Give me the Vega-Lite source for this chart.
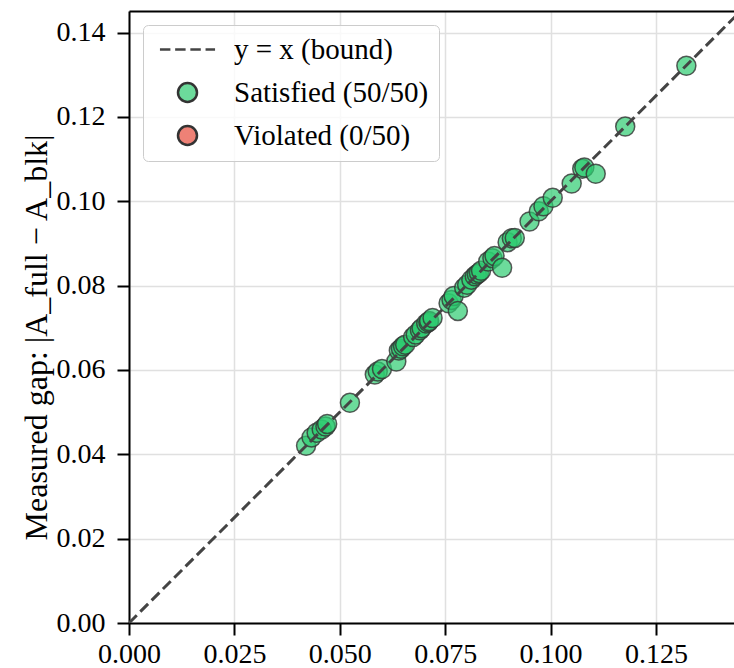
{
  "$schema": "https://vega.github.io/schema/vega-lite/v6.json",
  "width": 605,
  "height": 612,
  "autosize": "none",
  "padding": {"left": 129, "top": 11, "right": 0, "bottom": 45},
  "background": "white",
  "config": {
    "view": {"stroke": null},
    "font": "Liberation Serif",
    "axis": {
      "labelFont": "Liberation Serif", "labelFontSize": 28, "labelColor": "black",
      "titleFont": "Liberation Serif", "titleFontSize": 32, "titleFontWeight": "normal", "titleColor": "black",
      "domainColor": "black", "domainWidth": 2, "tickColor": "black", "tickWidth": 2, "tickSize": 12,
      "gridColor": "#e0e0e0", "gridWidth": 1.5
    }
  },
  "datasets": {
    "pts": [
      {"x": 0.0420, "y": 0.0420, "status": "Satisfied (50/50)"},
      {"x": 0.0433, "y": 0.0440, "status": "Satisfied (50/50)"},
      {"x": 0.0445, "y": 0.0451, "status": "Satisfied (50/50)"},
      {"x": 0.0457, "y": 0.0459, "status": "Satisfied (50/50)"},
      {"x": 0.0466, "y": 0.0466, "status": "Satisfied (50/50)"},
      {"x": 0.0470, "y": 0.0472, "status": "Satisfied (50/50)"},
      {"x": 0.0524, "y": 0.0522, "status": "Satisfied (50/50)"},
      {"x": 0.0583, "y": 0.0589, "status": "Satisfied (50/50)"},
      {"x": 0.0590, "y": 0.0596, "status": "Satisfied (50/50)"},
      {"x": 0.0600, "y": 0.0602, "status": "Satisfied (50/50)"},
      {"x": 0.0634, "y": 0.0620, "status": "Satisfied (50/50)"},
      {"x": 0.0640, "y": 0.0646, "status": "Satisfied (50/50)"},
      {"x": 0.0645, "y": 0.0650, "status": "Satisfied (50/50)"},
      {"x": 0.0650, "y": 0.0656, "status": "Satisfied (50/50)"},
      {"x": 0.0655, "y": 0.0660, "status": "Satisfied (50/50)"},
      {"x": 0.0674, "y": 0.0678, "status": "Satisfied (50/50)"},
      {"x": 0.0680, "y": 0.0684, "status": "Satisfied (50/50)"},
      {"x": 0.0690, "y": 0.0694, "status": "Satisfied (50/50)"},
      {"x": 0.0694, "y": 0.0699, "status": "Satisfied (50/50)"},
      {"x": 0.0705, "y": 0.0710, "status": "Satisfied (50/50)"},
      {"x": 0.0710, "y": 0.0713, "status": "Satisfied (50/50)"},
      {"x": 0.0712, "y": 0.0716, "status": "Satisfied (50/50)"},
      {"x": 0.0720, "y": 0.0723, "status": "Satisfied (50/50)"},
      {"x": 0.0758, "y": 0.0758, "status": "Satisfied (50/50)"},
      {"x": 0.0765, "y": 0.0766, "status": "Satisfied (50/50)"},
      {"x": 0.0770, "y": 0.0775, "status": "Satisfied (50/50)"},
      {"x": 0.0780, "y": 0.0740, "status": "Satisfied (50/50)"},
      {"x": 0.0795, "y": 0.0795, "status": "Satisfied (50/50)"},
      {"x": 0.0802, "y": 0.0802, "status": "Satisfied (50/50)"},
      {"x": 0.0812, "y": 0.0814, "status": "Satisfied (50/50)"},
      {"x": 0.0820, "y": 0.0822, "status": "Satisfied (50/50)"},
      {"x": 0.0825, "y": 0.0826, "status": "Satisfied (50/50)"},
      {"x": 0.0830, "y": 0.0830, "status": "Satisfied (50/50)"},
      {"x": 0.0835, "y": 0.0835, "status": "Satisfied (50/50)"},
      {"x": 0.0852, "y": 0.0857, "status": "Satisfied (50/50)"},
      {"x": 0.0862, "y": 0.0865, "status": "Satisfied (50/50)"},
      {"x": 0.0867, "y": 0.0870, "status": "Satisfied (50/50)"},
      {"x": 0.0885, "y": 0.0842, "status": "Satisfied (50/50)"},
      {"x": 0.0898, "y": 0.0903, "status": "Satisfied (50/50)"},
      {"x": 0.0908, "y": 0.0912, "status": "Satisfied (50/50)"},
      {"x": 0.0915, "y": 0.0913, "status": "Satisfied (50/50)"},
      {"x": 0.0950, "y": 0.0952, "status": "Satisfied (50/50)"},
      {"x": 0.0972, "y": 0.0976, "status": "Satisfied (50/50)"},
      {"x": 0.0983, "y": 0.0988, "status": "Satisfied (50/50)"},
      {"x": 0.1005, "y": 0.1008, "status": "Satisfied (50/50)"},
      {"x": 0.1050, "y": 0.1042, "status": "Satisfied (50/50)"},
      {"x": 0.1075, "y": 0.1077, "status": "Satisfied (50/50)"},
      {"x": 0.1080, "y": 0.1080, "status": "Satisfied (50/50)"},
      {"x": 0.1107, "y": 0.1065, "status": "Satisfied (50/50)"},
      {"x": 0.1177, "y": 0.1177, "status": "Satisfied (50/50)"},
      {"x": 0.1322, "y": 0.1321, "status": "Satisfied (50/50)"}
    ],
    "bound": [{"x": 0, "y": 0}, {"x": 0.16, "y": 0.16}]
  },
  "layer": [
    {
      "data": {"name": "pts"},
      "mark": {"type": "point", "filled": true, "size": 361, "fillOpacity": 0.7, "strokeWidth": 1.5, "strokeOpacity": 0.8},
      "encoding": {
        "x": {
          "field": "x", "type": "quantitative",
          "scale": {"domain": [0, 0.1435], "nice": false, "zero": false},
          "axis": {"orient": "bottom", "title": null, "values": [0, 0.025, 0.05, 0.075, 0.1, 0.125], "format": ".3f", "labelPadding": 5, "labelFlush": false, "labelOverlap": false}
        },
        "y": {
          "field": "y", "type": "quantitative",
          "scale": {"domain": [0, 0.1451], "nice": false, "zero": false},
          "axis": {"orient": "left", "title": "Measured gap: |A_full − A_blk|", "titlePadding": 3, "titleY": 326, "values": [0, 0.02, 0.04, 0.06, 0.08, 0.1, 0.12, 0.14], "format": ".2f", "labelPadding": 12, "labelFlush": false, "labelOverlap": false}
        },
        "fill": {
          "field": "status", "type": "nominal",
          "scale": {"domain": ["y = x (bound)", "Satisfied (50/50)", "Violated (0/50)"], "range": ["transparent", "#2ecc71", "#e74c3c"]},
          "legend": {
            "title": null, "orient": "none", "legendX": 14, "legendY": 14,
            "padding": 10, "symbolOffset": 20, "labelOffset": 32, "rowPadding": 13,
            "symbolSize": 361, "symbolStrokeWidth": 2.5,
            "labelFont": "Liberation Serif", "labelFontSize": 29, "labelColor": "black", "labelLimit": 500,
            "fillColor": "rgba(255,255,255,0.8)", "strokeColor": "#cccccc", "cornerRadius": 5,
            "encode": {"symbols": {"update": {"fillOpacity": {"value": 0.7}}}}
          }
        },
        "stroke": {
          "field": "status", "type": "nominal",
          "scale": {"domain": ["y = x (bound)", "Satisfied (50/50)", "Violated (0/50)"], "range": ["#444444", "#333333", "#333333"]},
          "legend": {"title": null}
        },
        "shape": {
          "field": "status", "type": "nominal",
          "scale": {"domain": ["y = x (bound)", "Satisfied (50/50)", "Violated (0/50)"], "range": ["M-2.9,0H-1.8M-1.3,0H-0.2M0.3,0H1.4M1.9,0H2.9", "circle", "circle"]},
          "legend": {"title": null}
        }
      }
    },
    {
      "data": {"name": "bound"},
      "mark": {"type": "line", "clip": true, "color": "#444444", "strokeWidth": 3, "strokeDash": [11, 5]},
      "encoding": {
        "x": {"field": "x", "type": "quantitative", "axis": {"orient": "top", "title": null, "labels": false, "ticks": false, "grid": false, "domainWidth": 2}},
        "y": {"field": "y", "type": "quantitative", "axis": null}
      }
    }
  ],
  "resolve": {"axis": {"x": "independent", "y": "independent"}}
}
